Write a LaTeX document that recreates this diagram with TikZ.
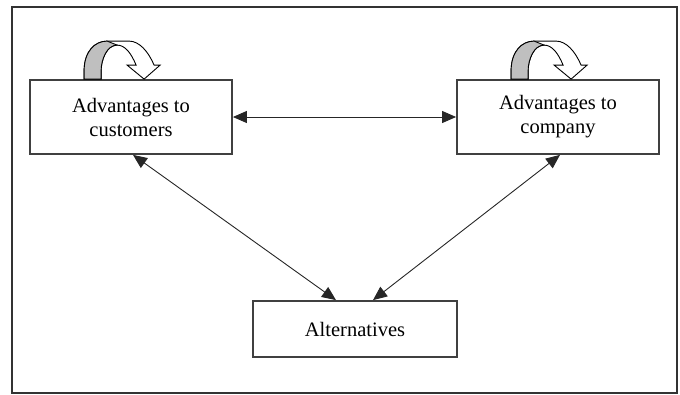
\documentclass[tikz,border=0pt]{standalone}
\usepackage{fontspec}
\setmainfont{Liberation Serif}
\usetikzlibrary{arrows.meta,positioning}
\tikzset{
  box/.style={draw=black!75, line width=1.8pt, rectangle, minimum width=202pt, minimum height=74pt, align=center, font=\fontsize{20.5}{24}\selectfont, inner sep=0pt},
  link/.style={{Triangle[length=14pt,width=12pt]}-{Triangle[length=14pt,width=12pt]}, line width=0.9pt, draw=black!85},
  pics/loop/.style={code={
    % curved block arrow sitting on top of a box
    \draw[line width=0.9pt, fill=white]
      (55,0) -- (55,-8) .. controls (55,-28) and (66,-38) .. (78,-38) -- (100,-38)
      .. controls (110,-38) and (119,-28) .. (125,-14) -- (131,-14) -- (115,0) -- (98,-14) -- (107,-14)
      .. controls (102,-26) and (96,-34) .. (88,-34) .. controls (78,-34) and (72,-20) .. (72,-8) -- (72,0) -- cycle;
    \draw[line width=0.9pt, fill=black!25]
      (55,0) -- (55,-8) .. controls (55,-28) and (66,-38) .. (78,-38) -- (88,-34)
      .. controls (78,-34) and (72,-20) .. (72,-8) -- (72,0) -- cycle;
  }},
}
\begin{document}
\begin{tikzpicture}[x=1pt, y=-1pt]
\useasboundingbox (0,0) rectangle (680,394);
\draw[line width=2pt, draw=black!80] (12,6.5) rectangle (676.5,392.5);

\node[box] (cust) at (131,117) {Advantages to\\customers};
\node[box] (comp) at (558,117) {Advantages to\\company};
\node[box, minimum width=204pt, minimum height=56pt] (alt) at (355,329) {Alternatives};

\pic at (cust.north west) {loop};
\pic at (comp.north west) {loop};

\draw[link] (cust) -- (comp);
\draw[link] ([xshift=2pt]cust.south) -- ([xshift=-19pt]alt.north);
\draw[link] ([xshift=2pt]comp.south) -- ([xshift=18pt]alt.north);

\end{tikzpicture}
\end{document}
